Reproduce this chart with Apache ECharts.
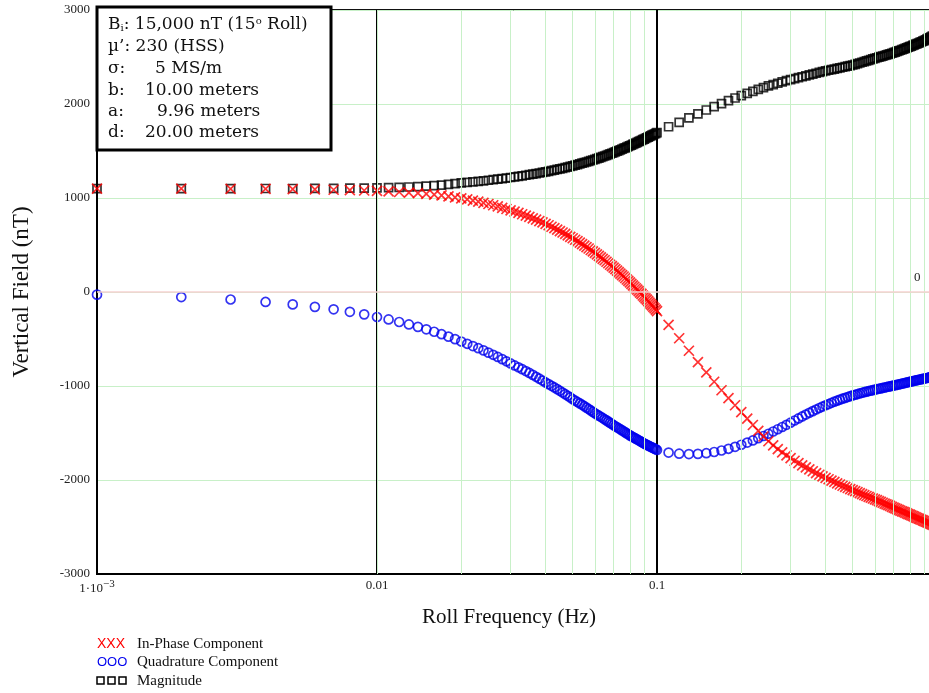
<!DOCTYPE html>
<html>
<head>
<meta charset="UTF-8">
<title>Roll Frequency</title>
<script type="text/javascript" src="https://cdn.jsdelivr.net/npm/echarts@6.0.0/dist/echarts.min.js"></script>
<style>
body{margin:0;background:#fff;}
</style>
</head>
<body>
	<div id="show" style="width:929px;height:693px"></div>
	<script type="text/javascript">
		// roll frequency (Hz)
		var freqs=[
			0.001,0.002,0.003,0.004,0.005,0.006,0.007,0.008,0.009,0.010,
			0.011,0.012,0.013,0.014,0.015,0.016,0.017,0.018,0.019,0.020,
			0.021,0.022,0.023,0.024,0.025,0.026,0.027,0.028,0.029,0.030,
			0.031,0.032,0.033,0.034,0.035,0.036,0.037,0.038,0.039,0.040,
			0.041,0.042,0.043,0.044,0.045,0.046,0.047,0.048,0.049,0.050,
			0.051,0.052,0.053,0.054,0.055,0.056,0.057,0.058,0.059,0.060,
			0.061,0.062,0.063,0.064,0.065,0.066,0.067,0.068,0.069,0.070,
			0.071,0.072,0.073,0.074,0.075,0.076,0.077,0.078,0.079,0.080,
			0.081,0.082,0.083,0.084,0.085,0.086,0.087,0.088,0.089,0.090,
			0.091,0.092,0.093,0.094,0.095,0.096,0.097,0.098,0.099,0.100,
			0.11,0.12,0.13,0.14,0.15,0.16,0.17,0.18,0.19,0.20,
			0.21,0.22,0.23,0.24,0.25,0.26,0.27,0.28,0.29,0.30,
			0.31,0.32,0.33,0.34,0.35,0.36,0.37,0.38,0.39,0.40,
			0.41,0.42,0.43,0.44,0.45,0.46,0.47,0.48,0.49,0.50,
			0.51,0.52,0.53,0.54,0.55,0.56,0.57,0.58,0.59,0.60,
			0.61,0.62,0.63,0.64,0.65,0.66,0.67,0.68,0.69,0.70,
			0.71,0.72,0.73,0.74,0.75,0.76,0.77,0.78,0.79,0.80,
			0.81,0.82,0.83,0.84,0.85,0.86,0.87,0.88,0.89,0.90,
			0.91,0.92,0.93,0.94,0.95,0.96,0.97,0.98,0.99,1.00
		];
		// in-phase component (nT)
		var inPhase=[
			1100,1099,1098,1096,1094,1091,1088,1084,1080,1075,
			1070,1064,1058,1051,1044,1036,1027,1017,1007,996,
			985,973,961,948,936,923,910,896,883,869,
			855,841,827,813,799,784,770,755,740,725,
			710,694,679,664,648,633,618,602,587,572,
			556,541,525,510,494,478,463,447,432,416,
			400,385,369,353,338,322,306,290,275,259,
			243,228,212,196,180,165,149,133,118,102,
			87,71,56,40,25,10,-6,-21,-37,-52,
			-67,-82,-97,-112,-128,-143,-158,-173,-188,-203,
			-350,-492,-625,-745,-855,-955,-1045,-1128,-1205,-1278,
			-1348,-1415,-1478,-1537,-1588,-1632,-1671,-1707,-1739,-1768,
			-1795,-1820,-1844,-1866,-1887,-1907,-1926,-1944,-1961,-1977,
			-1992,-2007,-2021,-2035,-2048,-2061,-2073,-2085,-2097,-2108,
			-2119,-2130,-2140,-2150,-2160,-2170,-2179,-2188,-2197,-2206,
			-2215,-2224,-2233,-2242,-2251,-2259,-2268,-2276,-2285,-2293,
			-2301,-2309,-2317,-2325,-2333,-2340,-2348,-2355,-2362,-2369,
			-2376,-2383,-2390,-2397,-2404,-2410,-2417,-2423,-2430,-2436,
			-2442,-2448,-2454,-2460,-2466,-2472,-2477,-2483,-2488,-2494
		];
		// quadrature component (nT)
		var quadrature=[
			-28,-54,-80,-106,-132,-158,-184,-211,-238,-266,
			-292,-319,-345,-371,-397,-423,-449,-475,-501,-527,
			-551,-575,-598,-621,-645,-668,-691,-714,-737,-760,
			-781,-801,-821,-841,-861,-882,-902,-922,-942,-962,
			-980,-998,-1015,-1033,-1051,-1069,-1087,-1104,-1122,-1140,
			-1155,-1170,-1185,-1200,-1215,-1230,-1245,-1260,-1275,-1290,
			-1303,-1316,-1328,-1341,-1354,-1366,-1379,-1392,-1404,-1417,
			-1428,-1439,-1450,-1461,-1472,-1482,-1493,-1504,-1514,-1525,
			-1534,-1543,-1551,-1560,-1569,-1578,-1586,-1595,-1604,-1612,
			-1619,-1626,-1633,-1640,-1647,-1653,-1660,-1667,-1673,-1680,
			-1708,-1720,-1724,-1722,-1715,-1702,-1686,-1668,-1647,-1625,
			-1602,-1579,-1556,-1532,-1508,-1484,-1460,-1436,-1413,-1390,
			-1367,-1345,-1324,-1304,-1285,-1267,-1250,-1234,-1219,-1205,
			-1192,-1179,-1167,-1156,-1145,-1135,-1126,-1117,-1108,-1100,
			-1093,-1086,-1079,-1072,-1066,-1060,-1054,-1049,-1044,-1039,
			-1034,-1029,-1025,-1020,-1016,-1011,-1007,-1003,-999,-995,
			-991,-987,-983,-979,-975,-971,-967,-963,-959,-955,
			-951,-948,-944,-941,-937,-934,-931,-927,-924,-921,
			-918,-915,-912,-909,-906,-903,-900,-897,-894,-891
		];
		// magnitude (nT)
		var magnitude=[
			1100,1100,1100,1101,1101,1102,1103,1104,1105,1107,
			1110,1113,1117,1121,1126,1131,1137,1144,1152,1160,
			1166,1172,1177,1183,1189,1195,1201,1206,1212,1218,
			1224,1230,1236,1242,1248,1254,1260,1266,1272,1278,
			1284,1291,1297,1304,1310,1316,1323,1329,1336,1342,
			1349,1356,1363,1370,1377,1383,1390,1397,1404,1411,
			1418,1425,1433,1440,1447,1454,1461,1469,1476,1483,
			1490,1498,1505,1512,1520,1527,1534,1541,1549,1556,
			1563,1570,1577,1584,1592,1599,1606,1613,1620,1627,
			1634,1641,1647,1654,1661,1668,1675,1681,1688,1695,
			1758,1805,1852,1896,1936,1972,2005,2036,2064,2090,
			2113,2135,2155,2174,2192,2207,2221,2235,2248,2260,
			2270,2280,2290,2300,2309,2318,2327,2336,2344,2352,
			2359,2366,2372,2379,2385,2391,2397,2403,2409,2415,
			2422,2429,2436,2444,2451,2458,2465,2472,2479,2486,
			2492,2498,2504,2510,2516,2522,2528,2534,2540,2546,
			2552,2559,2565,2572,2578,2584,2591,2597,2604,2610,
			2616,2623,2629,2636,2642,2648,2655,2661,2668,2674,
			2682,2690,2698,2705,2712,2719,2726,2733,2740,2746
		];
		// minor grid lines of the log axis
		var minorFreqs=[0.002,0.003,0.004,0.005,0.006,0.007,0.008,0.009,
			0.02,0.03,0.04,0.05,0.06,0.07,0.08,0.09,
			0.2,0.3,0.4,0.5,0.6,0.7,0.8,0.9];
		var legendNames=['In-Phase Component','Quadrature Component','Magnitude'];

		var serif='"Liberation Serif", "Times New Roman", serif';
		var boxFont='17px "DejaVu Serif"';
		function pairs(vals){
			var out=[];
			for(var i=0;i<freqs.length;i++){
				out.push([freqs[i],vals[i]]);
			}
			return out;
		}
		var minorLines=[];
		for(var i=0;i<minorFreqs.length;i++){
			minorLines.push({xAxis:minorFreqs[i]});
		}
		function boxText(x,y,txt){
			return {type:'text',z:101,x:x,y:y,
				style:{text:txt,font:boxFont,fill:'#111',textVerticalAlign:'middle'}};
		}

		var myCharts=echarts.init(document.getElementById('show'));
		myCharts.setOption({
			animation:false,
			backgroundColor:'#fff',
			grid:{
				left:97,top:10,width:840,height:564,
				outerBoundsMode:'none',
				containLabel:false,
				show:true,borderColor:'#111',borderWidth:2
			},
			xAxis:{
				type:'log',
				logBase:10,
				min:0.001,
				max:1,
				name:'Roll Frequency (Hz)',
				nameLocation:'middle',
				nameGap:33,
				nameTextStyle:{fontFamily:serif,fontSize:21,color:'#111',padding:[0,16,0,0]},
				axisLine:{onZero:false,lineStyle:{color:'#000',width:2}},
				axisTick:{show:false},
				axisLabel:{
					margin:5,
					color:'#222',
					fontFamily:serif,
					fontSize:13,
					formatter:function(v){
						if(v<0.005){return '{a|1·10}{s|−3}';}
						if(v<0.05){return '0.01';}
						if(v<0.5){return '0.1';}
						return '1';
					},
					rich:{
						a:{fontFamily:serif,fontSize:13,color:'#222',lineHeight:16,verticalAlign:'bottom'},
						s:{fontFamily:serif,fontSize:11,color:'#222',lineHeight:10,verticalAlign:'top'}
					}
				},
				splitLine:{show:true,lineStyle:{color:'#000',width:2}}
			},
			yAxis:{
				type:'value',
				min:-3000,
				max:3000,
				interval:1000,
				name:'Vertical Field (nT)',
				nameLocation:'middle',
				nameGap:64,
				nameTextStyle:{fontFamily:serif,fontSize:23,color:'#111'},
				axisLine:{show:true,onZero:false,lineStyle:{color:'#000',width:2}},
				axisTick:{show:false},
				axisLabel:{
					margin:7,
					color:'#222',
					fontFamily:serif,
					fontSize:13,
					formatter:function(v){return String(v);}
				},
				splitLine:{show:true,lineStyle:{color:'#c8f0c8',width:1}}
			},
			series:[{
				name:'grid',
				type:'scatter',
				data:[],
				silent:true,
				z:1,
				markLine:{
					silent:true,
					symbol:'none',
					label:{show:false},
					lineStyle:{color:'#c8f0c8',width:1,type:'solid'},
					data:minorLines
				}
			},{
				name:'zero',
				type:'scatter',
				data:[],
				silent:true,
				z:1,
				markLine:{
					silent:true,
					symbol:'none',
					label:{show:false},
					lineStyle:{color:'#f6d2d2',width:1.5,type:'solid'},
					data:[{yAxis:0}]
				}
			},{
				name:legendNames[2],
				type:'scatter',
				data:pairs(magnitude),
				symbol:'rect',
				symbolSize:8,
				z:3,
				itemStyle:{color:'rgba(0,0,0,0)',borderColor:'#000',borderWidth:1.7}
			},{
				name:legendNames[1],
				type:'scatter',
				data:pairs(quadrature),
				symbol:'circle',
				symbolSize:9,
				z:3,
				itemStyle:{color:'rgba(0,0,0,0)',borderColor:'#0000ee',borderWidth:1.7}
			},{
				name:legendNames[0],
				type:'scatter',
				data:pairs(inPhase),
				symbol:'path://M0,0L10,10M10,0L0,10',
				symbolSize:10,
				z:4,
				itemStyle:{color:'rgba(0,0,0,0)',borderColor:'#ff0000',borderWidth:1.7}
			}],
			graphic:[{
				type:'rect',
				z:100,
				shape:{x:97,y:7,width:234,height:143},
				style:{fill:'#fff',stroke:'#000',lineWidth:3}
			},{
				type:'text',z:101,x:108,y:25,
				style:{
					text:'B{sub|i}: 15,000 nT (15{sup|o} Roll)',
					font:boxFont,fill:'#111',textVerticalAlign:'middle',
					rich:{
						sub:{fontFamily:'DejaVu Serif',fontSize:10,lineHeight:9,verticalAlign:'bottom'},
						sup:{fontFamily:'DejaVu Serif',fontSize:10,lineHeight:9,verticalAlign:'top'}
					}
				}
			},
			boxText(108,47,'µ’: 230 (HSS)'),
			boxText(108,69,'σ:'),
			boxText(155,69,'5 MS/m'),
			boxText(108,91,'b:'),
			boxText(145,91,'10.00 meters'),
			boxText(108,112,'a:'),
			boxText(157,112,'9.96 meters'),
			boxText(108,133,'d:'),
			boxText(145,133,'20.00 meters'),
			{
				type:'text',z:50,x:914,y:278,
				style:{text:'0',font:'13px "Liberation Serif"',fill:'#222',textVerticalAlign:'middle'}
			},{
				// legend
				type:'text',z:50,x:97,y:644,
				style:{text:'XXX',font:'14px "Liberation Sans"',fill:'#ff0000',textVerticalAlign:'middle'}
			},{
				type:'text',z:50,x:97,y:662,
				style:{text:'OOO',font:'13px "Liberation Sans"',fill:'#0000ee',textVerticalAlign:'middle'}
			},{
				type:'rect',z:50,shape:{x:97,y:677,width:7,height:7},
				style:{fill:'none',stroke:'#000',lineWidth:1.5}
			},{
				type:'rect',z:50,shape:{x:108,y:677,width:7,height:7},
				style:{fill:'none',stroke:'#000',lineWidth:1.5}
			},{
				type:'rect',z:50,shape:{x:119,y:677,width:7,height:7},
				style:{fill:'none',stroke:'#000',lineWidth:1.5}
			},{
				type:'text',z:50,x:137,y:644,
				style:{text:legendNames[0],font:'15px "Liberation Serif"',fill:'#111',textVerticalAlign:'middle'}
			},{
				type:'text',z:50,x:137,y:662,
				style:{text:legendNames[1],font:'15px "Liberation Serif"',fill:'#111',textVerticalAlign:'middle'}
			},{
				type:'text',z:50,x:137,y:681,
				style:{text:legendNames[2],font:'15px "Liberation Serif"',fill:'#111',textVerticalAlign:'middle'}
			}]
		});
	</script>
</body>
</html>
